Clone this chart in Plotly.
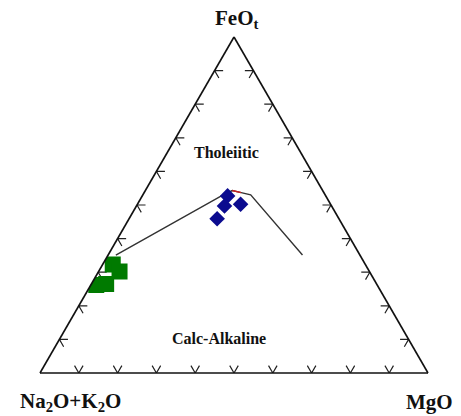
import plotly.graph_objects as go

# AFM diagram: FeOt (top), Na2O+K2O (bottom left), MgO (bottom right), in wt% (sum = 100)

# Tholeiitic / calc-alkaline boundary
line_feo = [35.1, 52.7, 54.3, 53.7, 53.0, 35.1]
line_alk = [62.9, 26.9, 23.3, 21.3, 19.2, 14.8]
line_mgo = [2.0, 20.4, 22.4, 25.0, 27.8, 50.1]

# short red piece of the boundary near its crest
red_feo = [54.3, 53.7]
red_alk = [23.3, 21.3]
red_mgo = [22.4, 25.0]

# samples, group 1 (blue diamonds)
blue_feo = [52.7, 50.2, 49.7, 45.9]
blue_alk = [25.3, 23.2, 27.6, 31.4]
blue_mgo = [22.0, 26.6, 22.7, 22.7]

# samples, group 2 (green squares)
green_feo = [32.3, 30.2, 26.2, 26.5]
green_alk = [65.1, 64.4, 72.4, 69.7]
green_mgo = [2.6, 5.4, 1.4, 3.8]

# chevron ticks every 10 % along each side
tick_steps = [10, 20, 30, 40, 50, 60, 70, 80, 90]
arm = 2.2

ta, tb, tc = [], [], []


def chevron(p, q, r):
    for (a, b, c) in (p, q, r):
        ta.append(a)
        tb.append(b)
        tc.append(c)
    ta.append(None)
    tb.append(None)
    tc.append(None)


for t in tick_steps:
    # bottom side (FeOt = 0): "V" opening into the triangle
    chevron((arm, 100 - t - arm, t), (0, 100 - t, t), (arm, 100 - t, t - arm))
    # left side (MgO = 0)
    chevron((t, 100 - t - arm, arm), (t, 100 - t, 0), (t - arm, 100 - t, arm))
    # right side (Na2O+K2O = 0)
    chevron((t, arm, 100 - t - arm), (t, 0, 100 - t), (t - arm, arm, 100 - t))

fig = go.Figure()

fig.add_trace(go.Scatterternary(
    a=ta, b=tb, c=tc, mode="lines",
    line=dict(color="#222222", width=1.2),
    hoverinfo="skip", showlegend=False,
))

fig.add_trace(go.Scatterternary(
    a=line_feo, b=line_alk, c=line_mgo, mode="lines",
    line=dict(color="#333333", width=1.4),
    showlegend=False,
))

fig.add_trace(go.Scatterternary(
    a=red_feo, b=red_alk, c=red_mgo, mode="lines",
    line=dict(color="#cc2222", width=1.4),
    showlegend=False,
))

fig.add_trace(go.Scatterternary(
    a=blue_feo, b=blue_alk, c=blue_mgo, mode="markers",
    marker=dict(symbol="diamond", size=12, color="#0b0b8f"),
    showlegend=False,
))

fig.add_trace(go.Scatterternary(
    a=green_feo, b=green_alk, c=green_mgo, mode="markers",
    marker=dict(symbol="square", size=16, color="#007a00"),
    showlegend=False,
))

axis_style = dict(
    showline=True, linecolor="#111111", linewidth=1.6,
    showgrid=False, showticklabels=False, ticks="",
    title=dict(text=""), min=0,
)

W, H = 461, 416
left_px, right_px, base_px = 40, 428, 373
tri_h = (right_px - left_px) * 3 ** 0.5 / 2

fig.update_layout(
    width=W, height=H,
    margin=dict(l=0, r=0, t=0, b=0),
    paper_bgcolor="white",
    ternary=dict(
        sum=100,
        bgcolor="white",
        domain=dict(
            x=[left_px / W, right_px / W],
            y=[(H - base_px) / H, (H - base_px + tri_h) / H],
        ),
        aaxis=axis_style,
        baxis=axis_style,
        caxis=axis_style,
    ),
)

serif = "Liberation Serif"
labels = [
    ("<b>FeO<sub>t</sub></b>", 236, 19, 21),
    ("<b>Na<sub>2</sub>O+K<sub>2</sub>O</b>", 70, 402, 21),
    ("<b>MgO</b>", 429, 402, 21),
    ("<b>Tholeiitic</b>", 226, 152, 16),
    ("<b>Calc-Alkaline</b>", 219, 338, 16),
]
for text, xp, yp, size in labels:
    fig.add_annotation(
        text=text, x=xp / W, y=(H - yp) / H, xref="paper", yref="paper",
        showarrow=False, xanchor="center", yanchor="middle",
        font=dict(family=serif, size=size, color="#111111"),
    )

fig.write_html("out.html")
